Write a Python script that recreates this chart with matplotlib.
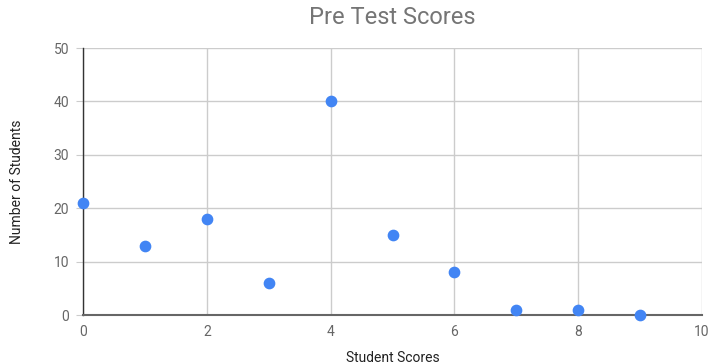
import matplotlib.pyplot as plt

# scores 0..9 and how many students got each
scores = [0, 1, 2, 3, 4, 5, 6, 7, 8, 9]
students = [21, 13, 18, 6, 40, 15, 8, 1, 1, 0]

x_ticks = [0, 2, 4, 6, 8, 10]
y_ticks = [0, 10, 20, 30, 40, 50]

plt.rcParams['font.family'] = ['Roboto', 'DejaVu Sans']

fig = plt.figure(figsize=(7.12, 3.64), dpi=100)
ax = fig.add_axes([0.1166, 0.1346, 0.8694, 0.7334])

ax.scatter(scores, students, s=55, color='#4285F4', zorder=3, clip_on=False)

ax.set_xlim(0, 10)
ax.set_ylim(0, 50)
ax.set_xticks(x_ticks)
ax.set_yticks(y_ticks)
ax.grid(True, color='#cccccc', linewidth=1)
ax.set_axisbelow(True)

for side in ['top', 'right']:
    ax.spines[side].set_visible(False)
ax.spines['left'].set_color('#333333')
ax.spines['left'].set_linewidth(1)
ax.spines['bottom'].set_color('#666666')
ax.spines['bottom'].set_linewidth(1.5)

ax.tick_params(axis='y', length=5, color='#cccccc', pad=5, labelsize=10, labelcolor='#666666')
ax.tick_params(axis='x', length=0, pad=7, labelsize=10, labelcolor='#666666')

ax.set_title('Pre Test Scores', fontsize=17, color='#757575', pad=17)
ax.set_xlabel('Student Scores', fontsize=10, color='#222222', labelpad=9)
ax.set_ylabel('Number of Students', fontsize=10, color='#222222', labelpad=21)

fig.savefig('out.png', dpi=100)
